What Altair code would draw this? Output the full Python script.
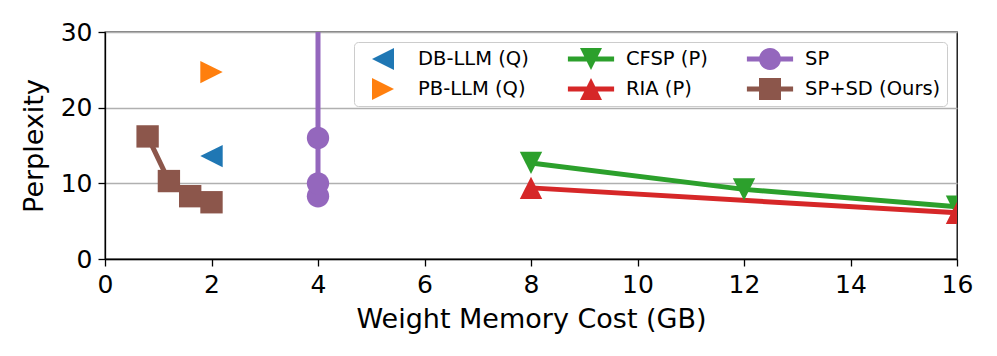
import altair as alt
import pandas as pd

# ---- data ----
series_order = ["DB-LLM (Q)", "PB-LLM (Q)", "CFSP (P)", "RIA (P)", "SP", "SP+SD (Ours)"]
series_colors = ["#1f77b4", "#ff7f0e", "#2ca02c", "#d62728", "#9467bd", "#8c564b"]

db_x = [2.0]
db_y = [13.6]
pb_x = [2.0]
pb_y = [24.7]
cfsp_x = [8, 12, 16]
cfsp_y = [12.7, 9.2, 6.9]
ria_x = [8, 16]
ria_y = [9.4, 6.1]
sp_x = [4, 4, 4, 4]
sp_y = [8.3, 10.0, 16.0, 60.0]
spsd_x = [0.8, 1.2, 1.6, 2.0]
spsd_y = [16.2, 10.3, 8.3, 7.5]

x_ticks = [0, 2, 4, 6, 8, 10, 12, 14, 16]
y_ticks = [0, 10, 20, 30]

rows = []
for name, xs, ys in [
    ("DB-LLM (Q)", db_x, db_y),
    ("PB-LLM (Q)", pb_x, pb_y),
    ("CFSP (P)", cfsp_x, cfsp_y),
    ("RIA (P)", ria_x, ria_y),
    ("SP", sp_x, sp_y),
    ("SP+SD (Ours)", spsd_x, spsd_y),
]:
    for i, (xv, yv) in enumerate(zip(xs, ys)):
        rows.append({"series": name, "x": xv, "y": yv, "idx": i})
df = pd.DataFrame(rows)
line_series = ["CFSP (P)", "RIA (P)", "SP", "SP+SD (Ours)"]

# marker shapes (unit paths, all drawn clockwise)
TRI_L = "M-1,0L1,-1L1,1Z"
TRI_R = "M1,0L-1,1L-1,-1Z"
TRI_D = "M-1,-1L1,-1L0,1Z"
TRI_U = "M0,-1L1,1L-1,1Z"
CIRC = "M-1,0A1,1 0 1,1 1,0A1,1 0 1,1 -1,0Z"
SQR = "M-1,-1L1,-1L1,1L-1,1Z"
marker_shapes = [TRI_L, TRI_R, TRI_D, TRI_U, CIRC, SQR]

BAR = "M-2.1,-0.23L2.1,-0.23L2.1,0.23L-2.1,0.23Z "
legend_shapes = [TRI_L, TRI_R, BAR + TRI_D, BAR + TRI_U, BAR + CIRC, BAR + SQR]

color_scale = alt.Scale(domain=series_order, range=series_colors)
shape_scale = alt.Scale(domain=series_order, range=marker_shapes)
legend_shape_scale = alt.Scale(domain=series_order, range=legend_shapes)

x_enc = alt.X(
    "x:Q",
    scale=alt.Scale(domain=[0, 16], nice=False),
    axis=alt.Axis(values=x_ticks, title="Weight Memory Cost (GB)", grid=False,
                  format="d", labelFlush=False),
)
y_enc = alt.Y(
    "y:Q",
    scale=alt.Scale(domain=[0, 30], nice=False),
    axis=alt.Axis(values=y_ticks, title="Perplexity", grid=True, format="d",
                  labelFlush=False),
)

lines = (
    alt.Chart(df)
    .transform_filter(alt.FieldOneOfPredicate(field="series", oneOf=line_series))
    .mark_line(strokeWidth=5, clip=True)
    .encode(
        x=x_enc,
        y=y_enc,
        color=alt.Color("series:N", scale=color_scale, legend=None),
        detail="series:N",
        order="idx:Q",
    )
)

points = (
    alt.Chart(df)
    .mark_point(filled=True, opacity=1, size=500, clip=True, strokeWidth=0)
    .encode(
        x=x_enc,
        y=y_enc,
        color=alt.Color("series:N", scale=color_scale, legend=None),
        shape=alt.Shape("series:N", scale=shape_scale, legend=None),
    )
)

leg = alt.Legend(
    title=None,
    orient="none",
    legendX=249,
    legendY=10,
    columns=3,
    columnPadding=38,
    rowPadding=8,
    padding=6,
    symbolSize=484,
    symbolOffset=12,
    symbolOpacity=1,
    symbolStrokeWidth=0,
    labelOffset=24,
    labelFontSize=19.5,
    labelFont="DejaVu Sans",
    labelColor="black",
    labelLimit=400,
    strokeColor="#cccccc",
    fillColor="white",
    cornerRadius=4,
)

legend_layer = (
    alt.Chart(df)
    .mark_point(filled=True, opacity=0, size=1, strokeWidth=0)
    .encode(
        x=x_enc,
        y=y_enc,
        color=alt.Color("series:N", scale=color_scale, legend=leg),
        shape=alt.Shape("series:N", scale=legend_shape_scale, legend=leg),
    )
)

chart = (
    alt.layer(lines, points, legend_layer)
    .resolve_scale(color="independent", shape="independent")
    .properties(
        width=852,
        height=227,
        autosize=alt.AutoSizeParams(type="none"),
        padding={"left": 97, "top": 24, "right": 32, "bottom": 80},
    )
    .configure_view(stroke="black", strokeWidth=1.3)
    .configure_axis(
        labelFont="DejaVu Sans",
        titleFont="DejaVu Sans",
        labelFontSize=25,
        titleFontSize=27,
        titleFontWeight="normal",
        labelColor="black",
        titleColor="black",
        domainColor="black",
        domainWidth=1.3,
        tickColor="black",
        tickSize=7,
        tickWidth=1.3,
        labelPadding=6,
        gridColor="#b0b0b0",
        gridWidth=1.3,
    )
    .configure_axisY(titlePadding=12)
    .configure_axisX(titlePadding=9)
)

chart.save("out.html", embed_options={"renderer": "svg", "actions": False})
